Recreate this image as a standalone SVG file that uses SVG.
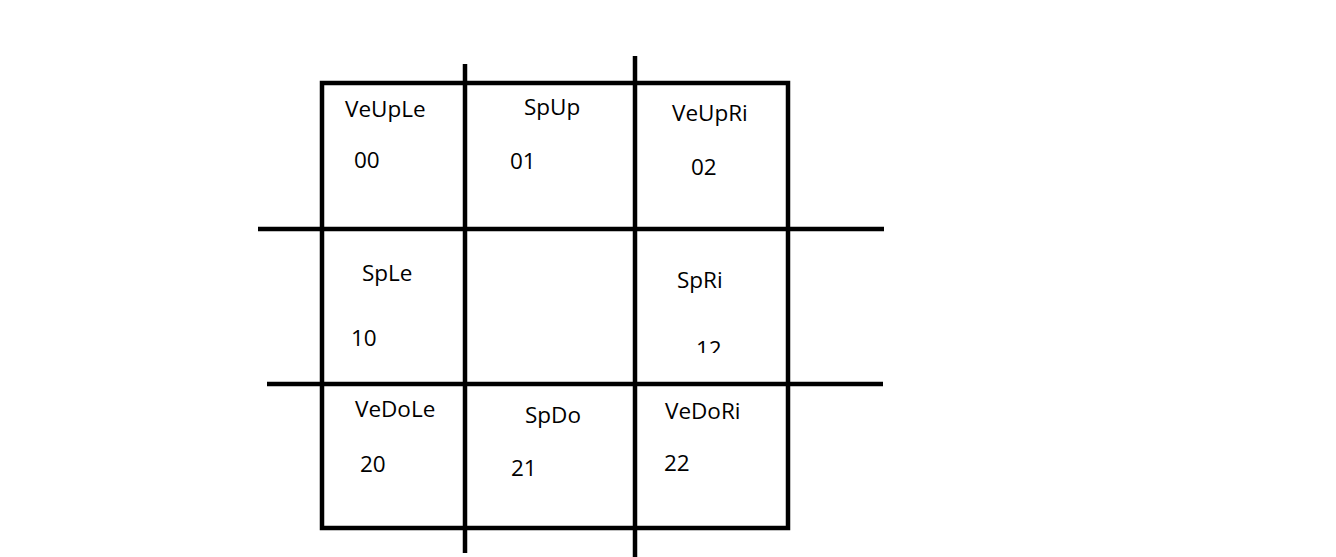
<svg xmlns="http://www.w3.org/2000/svg" width="1336" height="557" viewBox="0 0 1336 557">
  <style>
    .ln { stroke: #000; stroke-width: 4.5; fill: none; stroke-linecap: butt; }
    .lbl { font-family: "Open Sans", "Noto Sans", "Liberation Sans", sans-serif; font-size: 22.5px; fill: #000; }
  </style>
  <defs>
    <clipPath id="cut12">
      <rect x="600" y="300" width="200" height="53"/>
    </clipPath>
  </defs>
  <rect width="1336" height="557" fill="#fff"/>

  <!-- outer frame and grid lines -->
  <g id="connectors">
    <rect class="ln" x="322" y="83" width="466" height="445"/>
    <line class="ln" x1="465" y1="64" x2="465" y2="553"/>
    <line class="ln" x1="635" y1="56" x2="635" y2="557"/>
    <line class="ln" x1="258" y1="229" x2="884" y2="229"/>
    <line class="ln" x1="267" y1="384" x2="883" y2="384"/>
  </g>

  <g id="cell00">
    <text class="lbl" x="345" y="117">VeUpLe</text>
    <text class="lbl" x="354" y="168">00</text>
  </g>
  <g id="cell01">
    <text class="lbl" x="524" y="115">SpUp</text>
    <text class="lbl" x="510" y="169">01</text>
  </g>
  <g id="cell02">
    <text class="lbl" x="672" y="121">VeUpRi</text>
    <text class="lbl" x="691" y="175">02</text>
  </g>
  <g id="cell10">
    <text class="lbl" x="362" y="281">SpLe</text>
    <text class="lbl" x="351" y="346">10</text>
  </g>
  <g id="cell12">
    <text class="lbl" x="677" y="288">SpRi</text>
    <text class="lbl" x="696" y="357" clip-path="url(#cut12)">12</text>
  </g>
  <g id="cell20">
    <text class="lbl" x="355" y="417">VeDoLe</text>
    <text class="lbl" x="360" y="472">20</text>
  </g>
  <g id="cell21">
    <text class="lbl" x="525" y="423">SpDo</text>
    <text class="lbl" x="511" y="476">21</text>
  </g>
  <g id="cell22">
    <text class="lbl" x="665" y="419">VeDoRi</text>
    <text class="lbl" x="664" y="471">22</text>
  </g>
</svg>
